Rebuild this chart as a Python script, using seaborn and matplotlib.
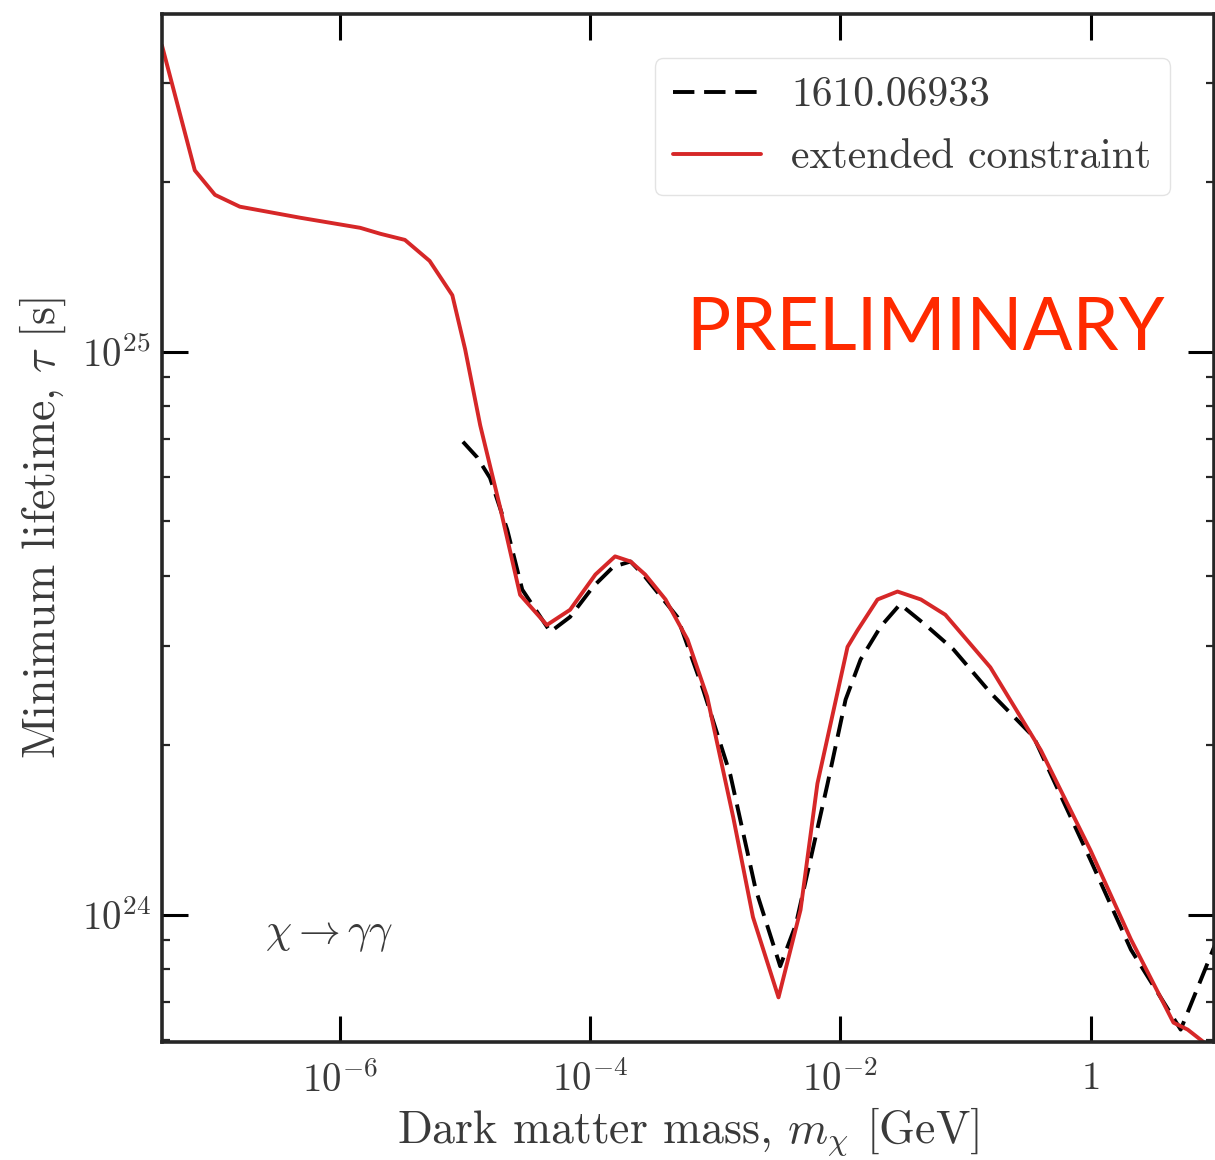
import numpy as np
import pandas as pd
import seaborn as sns
import matplotlib.pyplot as plt
from matplotlib.ticker import LogLocator, NullLocator, NullFormatter

# extended constraint (red)
red_mass = [3.77e-8, 6.9e-8, 1.0e-7, 1.58e-7, 4.8e-7, 1.45e-6, 2.1e-6, 3.3e-6,
            5.2e-6, 7.9e-6, 1.0e-5, 1.32e-5, 1.9e-5, 2.75e-5, 4.5e-5, 6.9e-5,
            1.1e-4, 1.58e-4, 2.1e-4, 2.75e-4, 4.0e-4, 6.0e-4, 8.6e-4, 1.39e-3,
            2.0e-3, 3.2e-3, 4.8e-3, 6.55e-3, 1.14e-2, 1.37e-2, 1.98e-2, 2.86e-2,
            4.4e-2, 6.9e-2, 0.158, 0.40, 1.0, 2.1, 4.6, 5.97, 9.64]
red_tau = [3.5e25, 2.1e25, 1.9e25, 1.81e25, 1.73e25, 1.66e25, 1.62e25, 1.58e25,
           1.45e25, 1.26e25, 1.01e25, 7.4e24, 5.3e24, 3.7e24, 3.27e24, 3.48e24,
           4.02e24, 4.33e24, 4.24e24, 4.02e24, 3.63e24, 3.08e24, 2.44e24, 1.49e24,
           9.9e23, 7.13e23, 1.02e24, 1.71e24, 2.99e24, 3.2e24, 3.63e24, 3.75e24,
           3.63e24, 3.41e24, 2.75e24, 1.96e24, 1.3e24, 9.04e23, 6.43e23, 6.25e23,
           5.75e23]

# 1610.06933 (black dashed)
ref_mass = [9.6e-6, 1.25e-5, 1.58e-5, 2.17e-5, 2.86e-5, 4.8e-5, 6.9e-5,
            1.06e-4, 1.53e-4, 2.1e-4, 2.75e-4, 4.97e-4, 8.0e-4, 1.32e-3, 2.1e-3,
            3.3e-3, 4.4e-3, 5.75e-3, 7.9e-3, 1.1e-2, 1.45e-2, 2.1e-2, 3.0e-2,
            4.8e-2, 8.0e-2, 0.158, 0.35, 1.0, 2.1, 5.25, 10.0]
ref_tau = [6.92e24, 6.49e24, 5.97e24, 4.83e24, 3.78e24, 3.18e24, 3.38e24,
           3.83e24, 4.15e24, 4.24e24, 3.98e24, 3.38e24, 2.51e24, 1.77e24, 1.11e24,
           8.1e23, 9.6e23, 1.25e24, 1.71e24, 2.41e24, 2.84e24, 3.25e24, 3.56e24,
           3.27e24, 2.96e24, 2.48e24, 2.07e24, 1.25e24, 8.67e23, 6.25e23, 8.9e23]

xticks = [1e-6, 1e-4, 1e-2, 1]
xtick_labels = ['$10^{-6}$', '$10^{-4}$', '$10^{-2}$', '$1$']
yticks = [1e24, 1e25]
ytick_labels = ['$10^{24}$', '$10^{25}$']

sns.set_style('ticks')
plt.rcParams['font.family'] = 'serif'
plt.rcParams['font.serif'] = ['cmr10', 'DejaVu Serif']
plt.rcParams['mathtext.fontset'] = 'cm'
plt.rcParams['axes.formatter.use_mathtext'] = True

txt = '#3a3a3a'

fig = plt.figure(figsize=(12.15, 11.6), dpi=100)
ax = fig.add_axes([0.1333, 0.1017, 0.8659, 0.8862])

ref = pd.DataFrame({'mass': ref_mass, 'tau': ref_tau})
red = pd.DataFrame({'mass': red_mass, 'tau': red_tau})

sns.lineplot(data=ref, x='mass', y='tau', ax=ax, color='black', lw=2.8,
             label='1610.06933', estimator=None, sort=False)
ax.lines[-1].set_dashes((5.5, 2.5))
sns.lineplot(data=red, x='mass', y='tau', ax=ax, color='#d62728', lw=2.8,
             label='extended constraint', estimator=None, sort=False)

ax.set_xscale('log')
ax.set_yscale('log')
ax.set_xlim(3.77e-8, 9.7)
ax.set_ylim(5.94e23, 3.98e25)

ax.set_xticks(xticks)
ax.set_xticklabels(xtick_labels)
ax.xaxis.set_minor_locator(NullLocator())
ax.set_yticks(yticks)
ax.set_yticklabels(ytick_labels)
ax.yaxis.set_minor_locator(LogLocator(base=10, subs=np.arange(2, 10)))
ax.yaxis.set_minor_formatter(NullFormatter())

ax.tick_params(which='major', direction='in', length=19, width=2.2,
               top=True, right=True, labelsize=28, colors='black',
               labelcolor=txt)
ax.tick_params(axis='x', which='major', pad=14)
ax.tick_params(axis='y', which='major', pad=8)
ax.tick_params(which='minor', direction='in', length=6, width=1.6,
               right=True)
for s in ax.spines.values():
    s.set_linewidth(2.6)

ax.set_xlabel(r'Dark matter mass, $m_\chi$ [GeV]', fontsize=33, color=txt,
              labelpad=4)
ax.set_ylabel(r'Minimum lifetime, $\tau$ [s]', fontsize=33, color=txt,
              labelpad=10)

leg = ax.legend(loc='upper right', bbox_to_anchor=(0.958, 0.957),
                borderaxespad=0, fontsize=30, handlelength=2.1,
                handletextpad=0.72, labelspacing=0.59, borderpad=0.45,
                framealpha=0.8, edgecolor='#dddddd', fancybox=True)
for t in leg.get_texts():
    t.set_color(txt)
leg.get_lines()[0].set_dashes((5.5, 2.5))

ax.text(0.098, 0.104, r'$\chi \to \gamma\gamma$', transform=ax.transAxes,
        fontsize=30, color=txt, va='center', ha='left')

ax.text(0.953, 0.673, 'PRELIMINARY', transform=ax.transAxes,
        fontsize=53, color='#ff2a00', family='Lato', ha='right',
        va='baseline')

fig.savefig('out.png', dpi=100)
